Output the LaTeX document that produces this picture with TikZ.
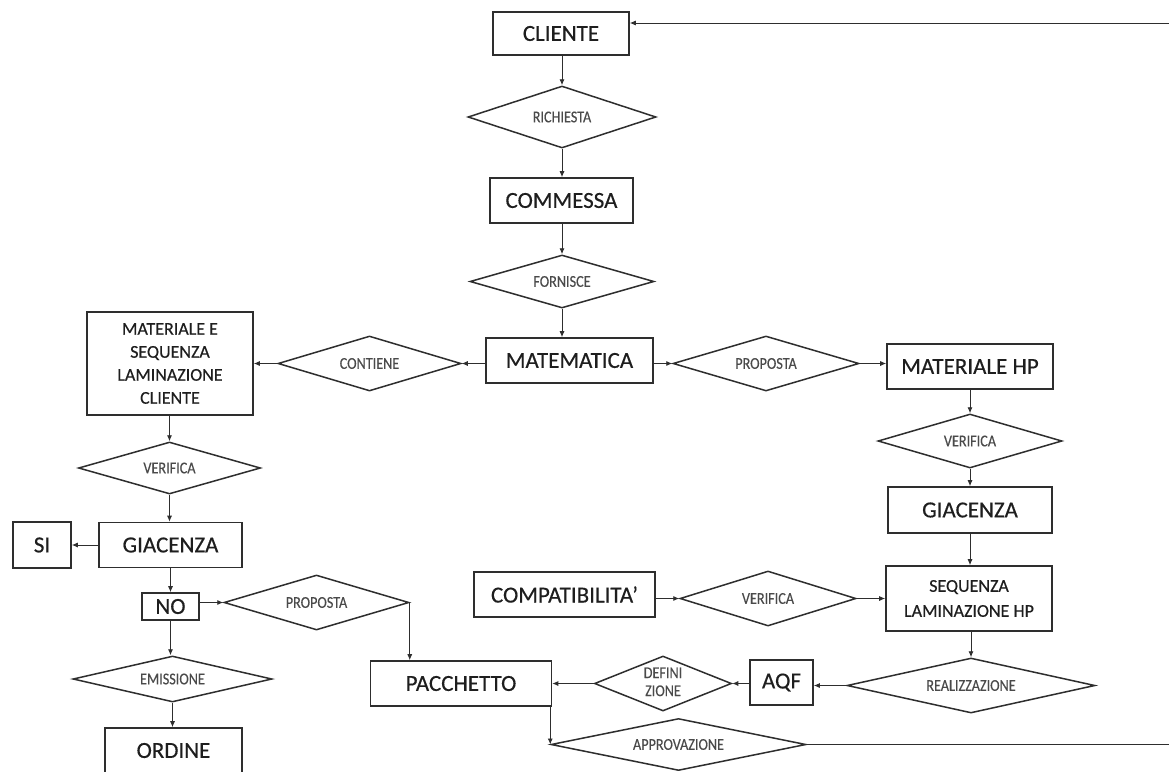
\documentclass[tikz,border=0pt]{standalone}
\usepackage{fontspec}
\setmainfont{Carlito}
\newfontfamily\boxfont{Carlito}[FakeBold=0.4]
\newfontfamily\diafont{Carlito}[FakeStretch=0.86,FakeBold=0.3]
\usetikzlibrary{shapes.geometric,arrows.meta}
\definecolor{ink}{HTML}{2E2E2E}
\definecolor{dtext}{HTML}{4A4A4A}
\definecolor{btext}{HTML}{1E1E1E}
\newcommand{\dlab}[1]{\makebox[0pt]{#1}}
\tikzset{
  ent/.style={draw=ink, line width=1.6pt, rectangle, inner sep=0pt, align=center,
    text=btext, font=\boxfont\fontsize{23}{27}\selectfont},
  entsmall/.style={ent, font=\boxfont\fontsize{18}{23}\selectfont},
  rel/.style={draw=ink, line width=1.5pt, diamond, inner sep=0pt, text=dtext,
    font=\diafont\fontsize{16.5}{18}\selectfont},
  arr/.style={draw=ink, line width=0.9pt, -{Latex[length=6pt,width=5pt]}},
}
\begin{document}
\begin{tikzpicture}[x=1pt,y=-1pt]
\useasboundingbox (0,0) rectangle (1169,771);
\clip (0,0) rectangle (1169,771);
\fill[white] (0,0) rectangle (1169,771);
% central column
\node[ent, minimum width=136pt, minimum height=43pt] (cliente) at (561,33.5) {CLIENTE};
\node[rel, minimum width=188pt, minimum height=62pt] (richiesta) at (562,117) {\dlab{RICHIESTA}};
\node[ent, minimum width=143pt, minimum height=45pt] (commessa) at (561.5,200.5) {COMMESSA};
\node[rel, minimum width=184pt, minimum height=53pt] (fornisce) at (562,281.5) {\dlab{FORNISCE}};
\node[ent, minimum width=167pt, minimum height=45pt] (matematica) at (569.5,360.5) {MATEMATICA};
% left branch
\node[rel, minimum width=183pt, minimum height=55pt] (contiene) at (369.5,363.5) {\dlab{CONTIENE}};
\node[entsmall, minimum width=166pt, minimum height=103pt] (matcliente) at (170,363.5)
  {MATERIALE E\\SEQUENZA\\LAMINAZIONE\\CLIENTE};
\node[rel, minimum width=182pt, minimum height=52pt] (verificacl) at (169.5,468) {\dlab{VERIFICA}};
\node[ent, minimum width=143pt, minimum height=45pt] (giacenzacl) at (170.5,545) {GIACENZA};
\node[ent, minimum width=58pt, minimum height=46pt] (si) at (42,545) {SI};
\node[ent, minimum width=57pt, minimum height=27pt] (no) at (170.5,606.5) {NO};
\node[rel, minimum width=185pt, minimum height=55pt] (propostacl) at (316.5,602.5) {\dlab{PROPOSTA}};
\node[rel, minimum width=199pt, minimum height=46pt] (emissione) at (172.5,679) {\dlab{EMISSIONE}};
\node[ent, minimum width=137pt, minimum height=45pt] (ordine) at (173.5,750.5) {ORDINE};
% right branch
\node[rel, minimum width=186pt, minimum height=55pt] (proposta) at (766,363.5) {\dlab{PROPOSTA}};
\node[ent, minimum width=166pt, minimum height=45pt] (materialehp) at (970,366.5) {MATERIALE HP};
\node[rel, minimum width=184pt, minimum height=54pt] (verificahp) at (970,441) {\dlab{VERIFICA}};
\node[ent, minimum width=164pt, minimum height=46pt] (giacenzahp) at (970,510) {GIACENZA};
\node[entsmall, minimum width=166pt, minimum height=65pt, font=\boxfont\fontsize{18}{25}\selectfont] (seqhp) at (969,598.5)
  {SEQUENZA\\LAMINAZIONE HP};
\node[rel, minimum width=176pt, minimum height=55pt] (verificamid) at (768,598.5) {\dlab{VERIFICA}};
\node[ent, minimum width=181pt, minimum height=45pt] (compat) at (564.5,594.5) {COMPATIBILITA’};
\node[rel, minimum width=248pt, minimum height=55pt] (realizz) at (971,685.5) {\dlab{REALIZZAZIONE}};
\node[ent, minimum width=63pt, minimum height=45pt] (aqf) at (781.5,682.5) {AQF};
\node[rel, minimum width=137pt, minimum height=55pt] (definiz) at (663,683.5)
  {\dlab{\begin{tabular}{@{}c@{}}DEFINI\\ZIONE\end{tabular}}};
\node[ent, minimum width=181pt, minimum height=45pt] (pacchetto) at (461,683.5) {PACCHETTO};
\node[rel, minimum width=255pt, minimum height=52pt] (approv) at (678.5,744.5) {\dlab{APPROVAZIONE}};
\coordinate (loopB) at (1175,745);
\coordinate (loopT) at (1175,23);
% connectors, central column
\draw[arr] (richiesta.north |- cliente.south) -- (richiesta.north);
\draw[arr] (richiesta.south) -- (richiesta.south |- commessa.north);
\draw[arr] (fornisce.north |- commessa.south) -- (fornisce.north);
\draw[arr] (fornisce.south) -- (fornisce.south |- matematica.north);
\draw[arr] (matematica.west |- contiene.east) -- (contiene.east);
\draw[arr] (contiene.west) -- (contiene.west -| matcliente.east);
\draw[arr] (matematica.east |- proposta.west) -- (proposta.west);
\draw[arr] (proposta.east) -- (proposta.east -| materialehp.west);
% right column
\draw[arr] (verificahp.north |- materialehp.south) -- (verificahp.north);
\draw[arr] (verificahp.south) -- (verificahp.south |- giacenzahp.north);
\draw[arr] (giacenzahp.south) -- (giacenzahp.south |- seqhp.north);
\draw[arr] (verificamid.west -| compat.east) -- (verificamid.west);
\draw[arr] (verificamid.east) -- (verificamid.east -| seqhp.west);
\draw[arr] (seqhp.south -| realizz.north) -- (realizz.north);
\draw[arr] (realizz.west) -- (realizz.west -| aqf.east);
\draw[arr] (aqf.west |- definiz.east) -- (definiz.east);
\draw[arr] (definiz.west) -- (definiz.west -| pacchetto.east);
\draw[arr] (approv.west |- pacchetto.south) -- (approv.west);
\draw[arr] (approv.east) -- (approv.east -| loopB) -- (loopT) -- (loopT -| cliente.east);
% left column
\draw[arr] (matcliente.south -| verificacl.north) -- (verificacl.north);
\draw[arr] (verificacl.south) -- (verificacl.south |- giacenzacl.north);
\draw[arr] (giacenzacl.west) -- (giacenzacl.west -| si.east);
\draw[arr] (giacenzacl.south) -- (giacenzacl.south |- no.north);
\draw[arr] (propostacl.west -| no.east) -- (propostacl.west);
\draw[arr] (propostacl.east) -- (propostacl.east |- pacchetto.north);
\draw[arr] (no.south) -- (no.south |- emissione.north);
\draw[arr] (emissione.south) -- (emissione.south |- ordine.north);
\end{tikzpicture}
\end{document}
